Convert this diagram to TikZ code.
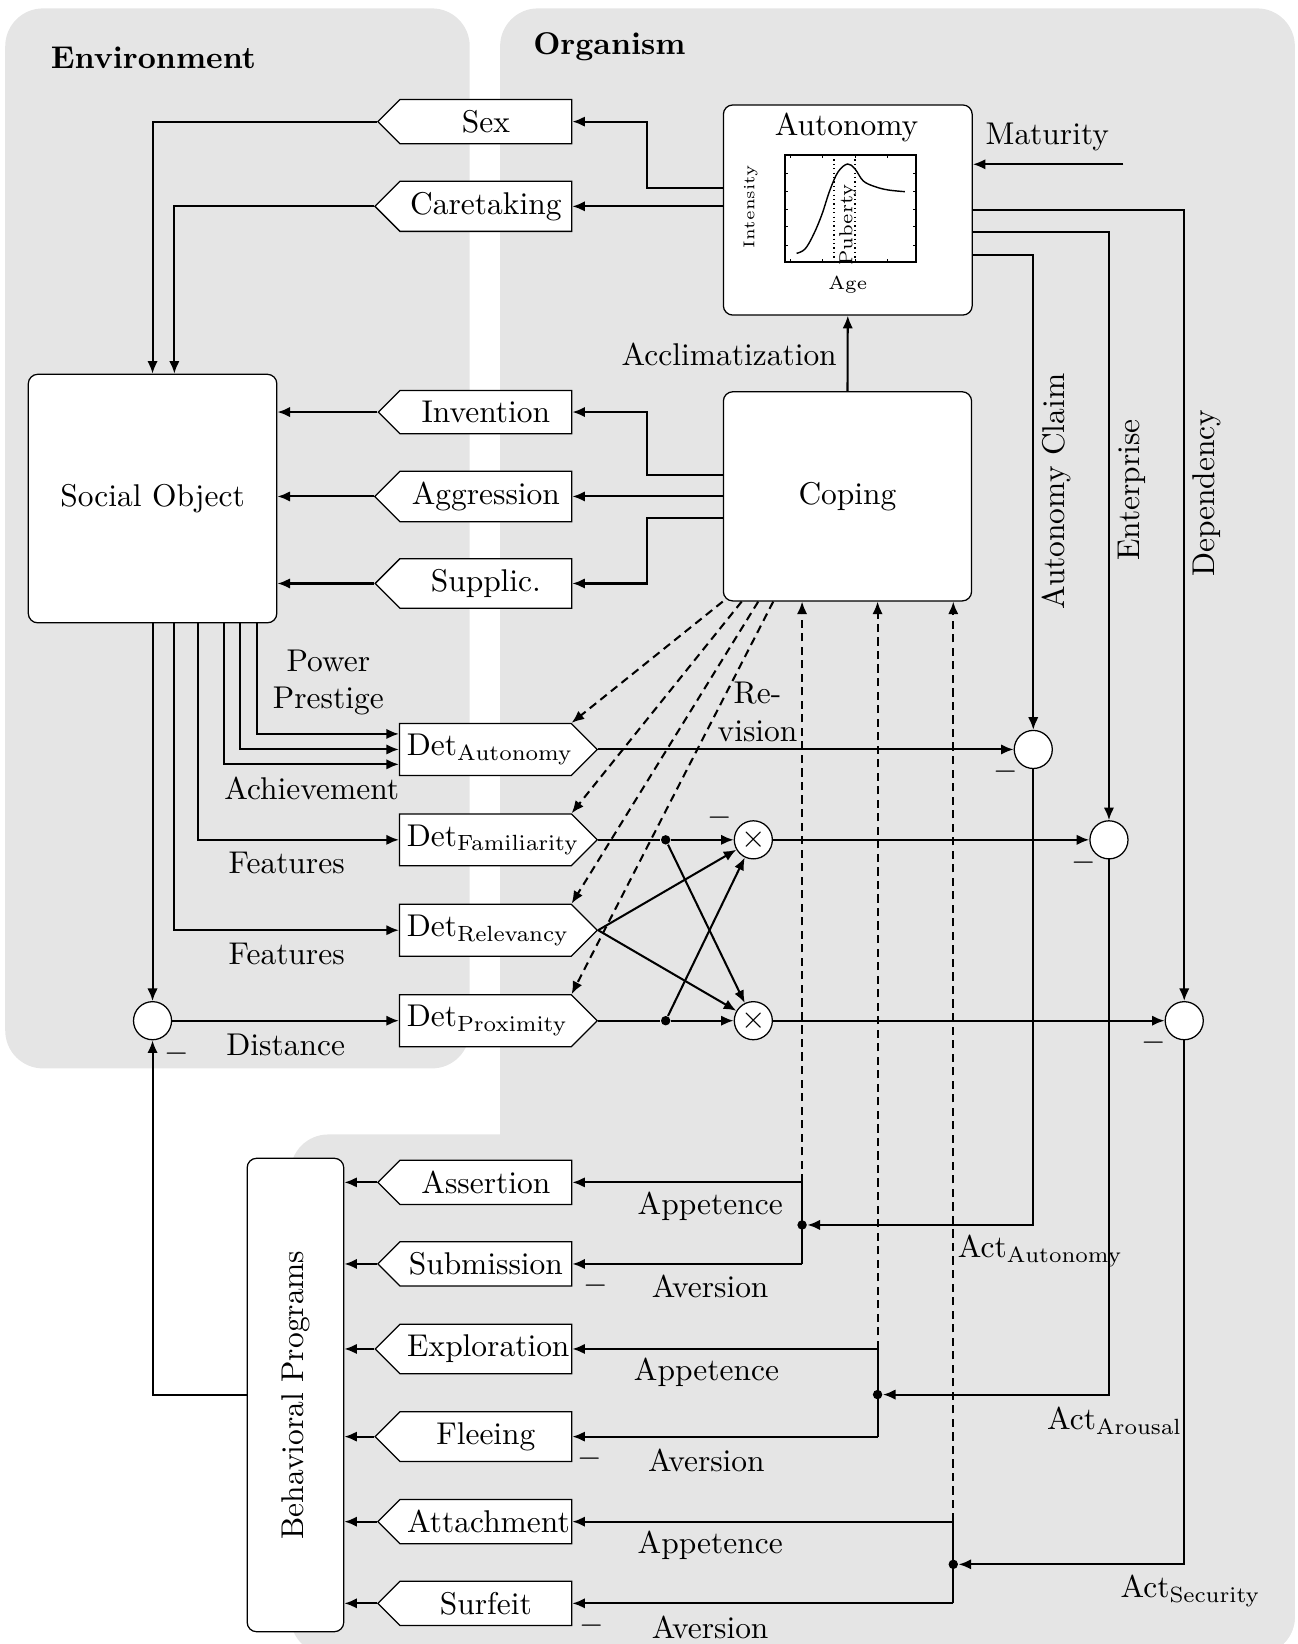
\documentclass[tikz,border=0pt]{standalone}
\usepackage{amsmath}
\usepackage{amssymb}
\usepackage{amsfonts}
\usepackage{tikz}
\usetikzlibrary{shapes.symbols,arrows.meta,calc}

\begin{document}
\begin{tikzpicture}[x=0.3333pt,y=0.3333pt,yscale=-1,xscale=1,
    region/.style={fill=gray!20},
    block/.style={draw,line width=0.4pt,fill=white,rounded corners=3pt},
    sigbox/.style={signal,signal pointer angle=90,draw,line width=0.4pt,fill=white,text width=50pt,align=center,inner xsep=2.3pt,inner ysep=3.4pt},
    tolft/.style={sigbox,signal to=west},
    torgt/.style={sigbox,signal to=east},
    junc/.style={circle,draw,line width=0.4pt,fill=white,minimum size=12.1pt,inner sep=0pt},
    jdot/.style={circle,fill=black,minimum size=3pt,inner sep=0pt},
    wire/.style={line width=0.65pt},
    conn/.style={wire,-{Latex[length=4pt,width=3.3pt]}},
    dconn/.style={conn,dash pattern=on 2.6pt off 1.7pt}]
    \useasboundingbox (0,0) rectangle (1238,1568);

    %Shape: Rounded Rectangle [environment]
    \fill [region,rounded corners=12pt] (5,8) rectangle (448,1019);
    %Shape: Rounded Rectangle [organism]
    \fill [region,rounded corners=12pt] (477,8) rectangle (1235,1578);
    \fill [region,rounded corners=12pt] (277,1082) rectangle (1235,1578);

    % Text Node
    \draw (38,55) node [anchor=west,font=\bfseries] (envlbl) {Environment};
    % Text Node
    \draw (498,45) node [anchor=west,font=\bfseries] (orglbl) {Organism};

    %Shape: Blocks
    \draw (145.5,475.5) node [block,minimum width=79pt,minimum height=79pt] (soc) {Social Object};
    \draw (808.6,200.3) node [block,minimum width=79.1pt,minimum height=66.8pt] (autonomy) {};
    \draw (808.3,473.4) node [block,minimum width=78.9pt,minimum height=66.5pt] (coping) {Coping};
    \draw (281.8,1330.5) node [block,rotate=90,minimum width=150.5pt,minimum height=30.7pt] (bp) {Behavioral Programs};

    % Text Node
    \draw (807.5,121.5) node (autotitle) {Autonomy};

    %Shape: Plot in Autonomy
    \draw [line width=0.4pt] (748.7,147.8) rectangle (873.6,249.9);
    \foreach \tx in {753.5,784.3,815.5,846.6} {
      \draw [line width=0.2pt] (\tx,147.8) -- ++(0,3);
      \draw [line width=0.2pt] (\tx,249.9) -- ++(0,-3);
    }
    \foreach \ty in {165.3,182.8,199.3,216.2,233.7} {
      \draw [line width=0.2pt] (748.7,\ty) -- ++(3,0);
      \draw [line width=0.2pt] (873.6,\ty) -- ++(-3,0);
    }
    \draw [densely dotted,line width=0.4pt] (795.4,147.8) -- (795.4,249.9);
    \draw [densely dotted,line width=0.4pt] (815.5,147.8) -- (815.5,249.9);
    \draw [line width=0.45pt] plot [smooth,tension=0.6] coordinates {(759.8,241.6) (767.8,237.5) (775.7,224.1) (783.7,205.1) (791.6,181.2) (799.5,163.7) (808.5,156.4) (815.5,161.2) (823.4,172.6) (834.5,178) (847.2,181.2) (863.1,182.8)};
    % Text Node
    \draw (716,197) node [rotate=90,font=\tiny] (intens) {Intensity};
    % Text Node
    \draw (808.5,214.6) node [rotate=90,font=\fontsize{6}{7}\selectfont] (puberty) {Puberty};
    % Text Node
    \draw (808.5,271.8) node [font=\fontsize{6}{7}\selectfont] (age) {Age};

    %Shape: Signals to the left
    \draw (463.4,116) node [tolft] (sex) {Sex};
    \draw (463.4,196.8) node [tolft] (care) {Caretaking};
    \draw (463.4,393) node [tolft] (inv) {Invention};
    \draw (463.4,473.5) node [tolft] (aggr) {Aggression};
    \draw (463.4,556.5) node [tolft] (suppl) {Supplic.};
    \draw (463.4,1127.7) node [tolft] (asser) {Assertion};
    \draw (463.4,1205.5) node [tolft] (subm) {Submission};
    \draw (463.4,1286.6) node [tolft] (explo) {Exploration};
    \draw (463.4,1370.2) node [tolft] (flee) {Fleeing};
    \draw (463.4,1451.3) node [tolft] (attach) {Attachment};
    \draw (463.4,1529.2) node [tolft] (surf) {Surfeit};

    %Shape: Detectors
    \draw (463,714.8) node [torgt] (daut) {Det$_\mathrm{Autonomy}$};
    \draw (463,801) node [torgt] (dfam) {Det$_\mathrm{Familiarity}$};
    \draw (463,887.2) node [torgt] (drel) {Det$_\mathrm{Relevancy}$};
    \draw (463,973.5) node [torgt] (dprox) {Det$_\mathrm{Proximity}$};

    %Shape: Circles and dots
    \draw (145.5,973.5) node [junc] (sumL) {};
    \draw (718.5,801) node [junc] (mulT) {$\times$};
    \draw (718.5,973.5) node [junc] (mulB) {$\times$};
    \draw (985.5,714.8) node [junc] (sum1) {};
    \draw (1057.7,801) node [junc] (sum2) {};
    \draw (1129.5,973.5) node [junc] (sum3) {};
    \draw (634.9,801) node [jdot] (dotF) {};
    \draw (634.9,973.5) node [jdot] (dotP) {};
    \draw (765,1168.3) node [jdot] (jA) {};
    \draw (837,1330.1) node [jdot] (jR) {};
    \draw (909.2,1492) node [jdot] (jS) {};

    % lanes
    \coordinate (laneS) at (617.4,0);
    \coordinate (laneC) at (166.3,0);
    \coordinate (laneF) at (189.2,0);
    \coordinate (laneAa) at (214,0);
    \coordinate (laneAb) at (228.9,0);
    \coordinate (laneAc) at (244.8,0);
    \coordinate (cornD) at (545.2,0);
    \coordinate (cpB) at (707.4,0);
    \coordinate (cpC) at (723.2,0);
    \coordinate (cpD) at (737.5,0);
    \coordinate (mat) at (1071.4,156.7);

    %Connectors: Autonomy and Coping to the left
    \draw [conn] ($(autonomy.west)+(0,-20.7)$) -| (laneS |- sex.east) -- (sex.east);
    \draw [conn] (autonomy.west |- care.east) -- (care.east);
    \draw [conn] ($(coping.west)+(0,-20.4)$) -| (laneS |- inv.east) -- (inv.east);
    \draw [conn] (coping.west |- aggr.east) -- (aggr.east);
    \draw [conn] ($(coping.west)+(0,21)$) -| (laneS |- suppl.east) -- (suppl.east);
    \draw [conn] (coping.north) -- (autonomy.south);
    \draw [conn] (mat) -- (autonomy.east |- mat);

    %Connectors: into Social Object
    \draw [conn] (sex.west) -| (soc.north);
    \draw [conn] (care.west) -| (soc.north -| laneC);
    \draw [conn] (inv.west) -- (inv.west -| soc.east);
    \draw [conn] (aggr.west) -- (aggr.west -| soc.east);
    \draw [conn] (suppl.west) -- (suppl.west -| soc.east);

    %Connectors: Social Object to detectors
    \draw [conn] (soc.south) -- (sumL);
    \draw [conn] (soc.south -| laneC) |- (drel.west);
    \draw [conn] (soc.south -| laneF) |- (dfam.west);
    \draw [conn] (soc.south -| laneAa) |- ($(daut.west)+(0,14.2)$);
    \draw [conn] (soc.south -| laneAb) |- (daut.west);
    \draw [conn] (soc.south -| laneAc) |- ($(daut.west)+(0,-14.8)$);
    \draw [conn] (sumL) -- (dprox.west);
    \draw [conn] (bp.north) -| (sumL);

    %Connectors: detectors to comparators
    \draw [conn] (daut.east) -- (sum1);
    \draw [wire] (dfam.east) -- (dotF);
    \draw [conn] (dotF) -- (mulT);
    \draw [conn] (dotF) -- (mulB);
    \draw [conn] (drel.east) -- (mulT);
    \draw [conn] (drel.east) -- (mulB);
    \draw [wire] (dprox.east) -- (dotP);
    \draw [conn] (dotP) -- (mulB);
    \draw [conn] (dotP) -- (mulT);
    \draw [conn] (mulT) -- (sum2);
    \draw [conn] (mulB) -- (sum3);

    %Connectors: Autonomy to comparators
    \draw [conn] ($(autonomy.east)+(0,43.2)$) -| (sum1);
    \draw [conn] ($(autonomy.east)+(0,21)$) -| (sum2);
    \draw [conn] (autonomy.east) -| (sum3);

    %Connectors: comparators to junctions
    \draw [conn] (sum1) |- (jA);
    \draw [conn] (sum2) |- (jR);
    \draw [conn] (sum3) |- (jS);

    %Connectors: junctions to programs
    \draw [conn] (jA |- asser.east) -- (asser.east);
    \draw [conn] (jA |- subm.east) -- (subm.east);
    \draw [wire] (jA |- asser.east) -- (jA |- subm.east);
    \draw [conn] (jR |- explo.east) -- (explo.east);
    \draw [conn] (jR |- flee.east) -- (flee.east);
    \draw [wire] (jR |- explo.east) -- (jR |- flee.east);
    \draw [conn] (jS |- attach.east) -- (attach.east);
    \draw [conn] (jS |- surf.east) -- (surf.east);
    \draw [wire] (jS |- attach.east) -- (jS |- surf.east);
    \foreach \n in {asser,subm,explo,flee,attach,surf}
      \draw [conn] (\n.west) -- (\n.west -| bp.south);

    %Connectors: dashed revision
    \draw [dconn] (jA |- asser.east) -- (coping.south -| jA);
    \draw [dconn] (jR |- explo.east) -- (coping.south -| jR);
    \draw [dconn] (jS |- attach.east) -- (coping.south -| jS);
    \draw [dconn] (coping.south west) -- (daut.north -| cornD);
    \draw [dconn] (coping.south -| cpB) -- (dfam.north -| cornD);
    \draw [dconn] (coping.south -| cpC) -- (drel.north -| cornD);
    \draw [dconn] (coping.south -| cpD) -- (dprox.north -| cornD);

    % Text Node
    \draw (695.5,338) node (accl) {Acclimatization};
    % Text Node
    \draw (998.9,130.3) node (matlbl) {Maturity};
    % Text Node
    \draw (1007.8,469) node [rotate=90] (claimlbl) {Autonomy Claim};
    % Text Node
    \draw (1079.3,467.3) node [rotate=90] (entlbl) {Enterprise};
    % Text Node
    \draw (1150.8,470.5) node [rotate=90] (deplbl) {Dependency};
    % Text Node
    \draw (313.2,651) node [align=center] (powlbl) {Power\\Prestige};
    % Text Node
    \draw (297.3,751.9) node (achlbl) {Achievement};
    % Text Node
    \draw (273.4,823.4) node (featA) {Features};
    % Text Node
    \draw (273.4,909.9) node (featB) {Features};
    % Text Node
    \draw (272.5,996.7) node (distlbl) {Distance};
    % Text Node
    \draw (722.5,679) node [align=center] (revlbl) {Re-\\vision};
    % Text Node
    \draw (913,1193) node [anchor=west,inner sep=0pt] (actA) {Act$_\mathrm{Autonomy}$};
    % Text Node
    \draw (998.2,1355) node [anchor=west,inner sep=0pt] (actR) {Act$_\mathrm{Arousal}$};
    % Text Node
    \draw (1068.2,1517) node [anchor=west,inner sep=0pt] (actS) {Act$_\mathrm{Security}$};
    % Text Node
    \draw (677.4,1150.8) node (appA) {Appetence};
    \draw (677.4,1227.1) node (aveA) {Aversion};
    \draw (673.8,1308.9) node (appR) {Appetence};
    \draw (673.8,1392.5) node (aveR) {Aversion};
    \draw (677.4,1473.5) node (appS) {Appetence};
    \draw (677.4,1552) node (aveS) {Aversion};

    % Text Node: minus signs
    \draw (686.7,779.5) node (mnT) {$-$};
    \draw (959.2,736) node (mn1) {$-$};
    \draw (1033.2,822.4) node (mn2) {$-$};
    \draw (1100,994.4) node (mn3) {$-$};
    \draw (168.6,1004.6) node (mnL) {$-$};
    \draw (568,1226.2) node (mnA) {$-$};
    \draw (562.4,1391.5) node (mnR) {$-$};
    \draw (564.2,1550.5) node (mnS) {$-$};

\end{tikzpicture}
\end{document}
